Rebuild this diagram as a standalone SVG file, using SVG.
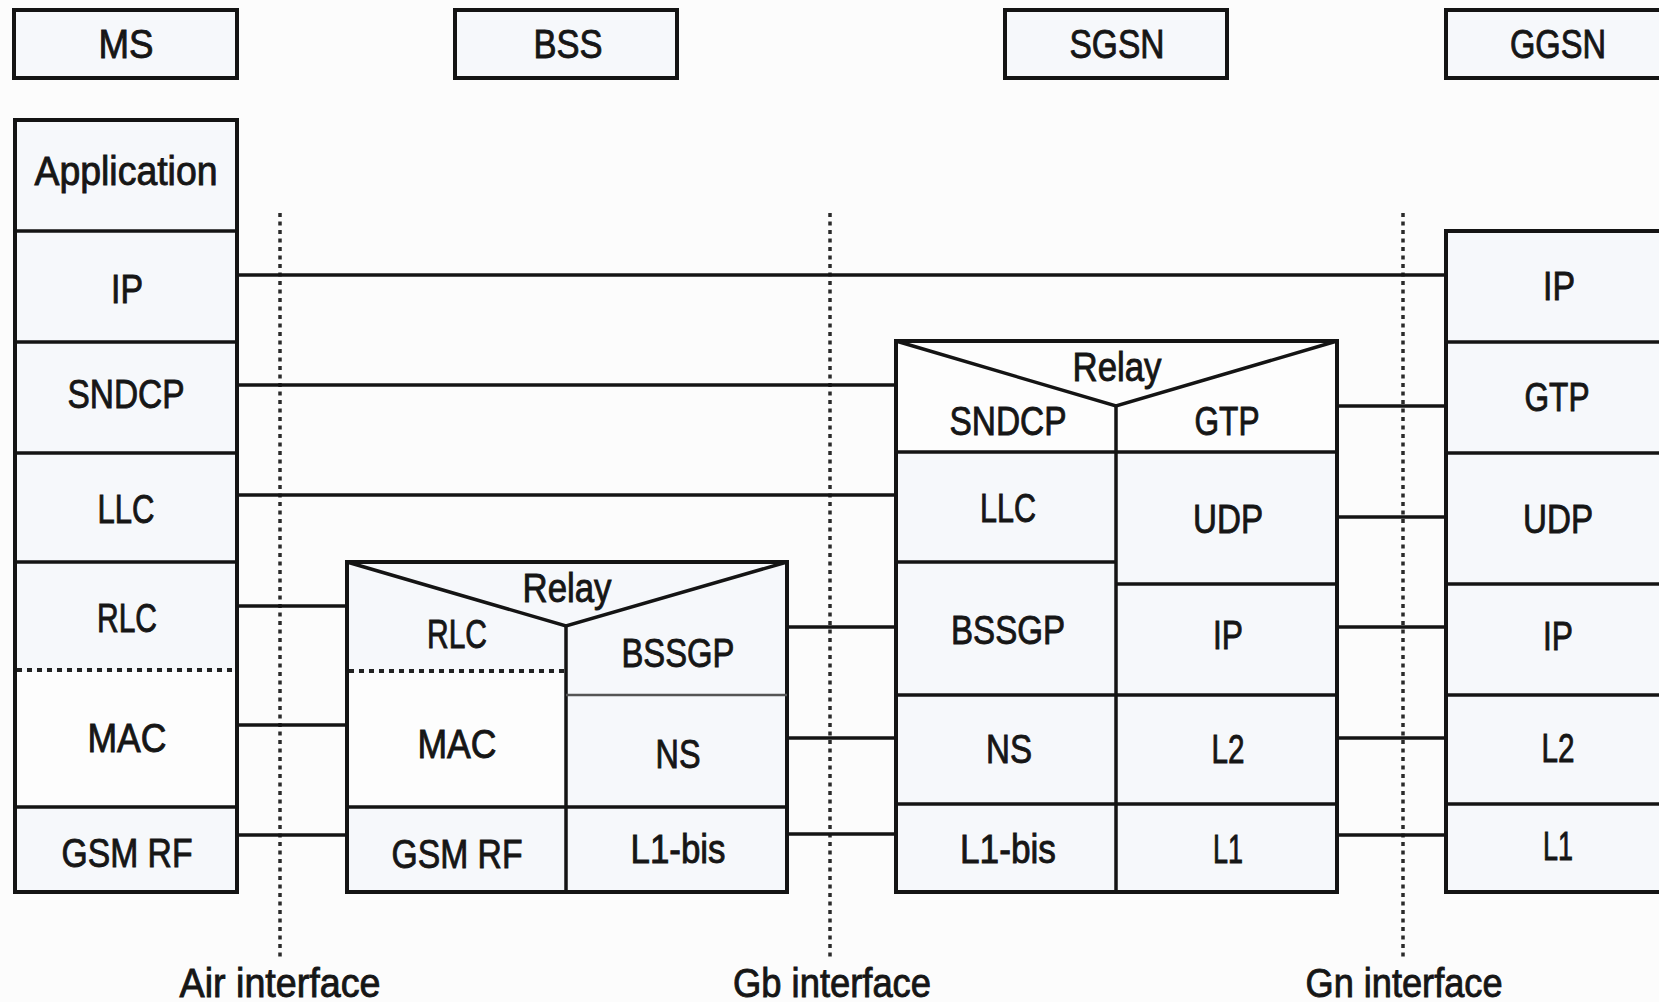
<svg xmlns="http://www.w3.org/2000/svg" width="1659" height="1002" viewBox="0 0 1659 1002">
<style>
text{font-family:"Liberation Sans",Arial,sans-serif;font-size:40px;fill:#161616;stroke:#161616;stroke-width:0.9;text-anchor:middle}
.box{fill:#f6f8fb;stroke:#141414;stroke-width:4}
.div{fill:none;stroke:#141414;stroke-width:3.5}
.thin{fill:none;stroke:#555;stroke-width:2.5}
.dash{fill:none;stroke:#222;stroke-width:4;stroke-dasharray:5 5}
.conn{fill:none;stroke:#141414;stroke-width:3.5}
.dot{fill:none;stroke:#2a2a2a;stroke-width:3.5;stroke-dasharray:4 4.5}
</style>
<rect x="0" y="0" width="1659" height="1002" fill="#fcfcfc"/>

<g id="interfaces">
<line class="dot" x1="280" y1="213" x2="280" y2="960"/>
<line class="dot" x1="830" y1="213" x2="830" y2="960"/>
<line class="dot" x1="1403" y1="213" x2="1403" y2="960"/>
<text x="280" y="997" textLength="201" lengthAdjust="spacingAndGlyphs">Air interface</text>
<text x="832" y="997" textLength="198" lengthAdjust="spacingAndGlyphs">Gb interface</text>
<text x="1404" y="997" textLength="197" lengthAdjust="spacingAndGlyphs">Gn interface</text>
</g>

<g id="connectors">
<line class="conn" x1="237" y1="275" x2="1446" y2="275"/>
<line class="conn" x1="237" y1="385" x2="896" y2="385"/>
<line class="conn" x1="237" y1="495" x2="896" y2="495"/>
<line class="conn" x1="237" y1="606" x2="347" y2="606"/>
<line class="conn" x1="237" y1="725" x2="347" y2="725"/>
<line class="conn" x1="237" y1="835" x2="347" y2="835"/>
<line class="conn" x1="787" y1="627" x2="896" y2="627"/>
<line class="conn" x1="787" y1="738" x2="896" y2="738"/>
<line class="conn" x1="787" y1="834" x2="896" y2="834"/>
<line class="conn" x1="1337" y1="406" x2="1446" y2="406"/>
<line class="conn" x1="1337" y1="517" x2="1446" y2="517"/>
<line class="conn" x1="1337" y1="627" x2="1446" y2="627"/>
<line class="conn" x1="1337" y1="738" x2="1446" y2="738"/>
<line class="conn" x1="1337" y1="835" x2="1446" y2="835"/>
</g>

<g id="hdr-ms">
<rect class="box" x="14" y="10" width="223" height="68"/>
<text x="126" y="58" textLength="55" lengthAdjust="spacingAndGlyphs">MS</text>
</g>
<g id="hdr-bss">
<rect class="box" x="455" y="10" width="222" height="68"/>
<text x="568" y="58" textLength="69" lengthAdjust="spacingAndGlyphs">BSS</text>
</g>
<g id="hdr-sgsn">
<rect class="box" x="1005" y="10" width="222" height="68"/>
<text x="1117" y="58" textLength="95" lengthAdjust="spacingAndGlyphs">SGSN</text>
</g>
<g id="hdr-ggsn">
<rect class="box" x="1446" y="10" width="230" height="68"/>
<text x="1558" y="58" textLength="96" lengthAdjust="spacingAndGlyphs">GGSN</text>
</g>

<g id="ms-stack">
<rect class="box" x="15" y="120" width="222" height="772"/>
<rect x="17" y="672" width="218" height="133" fill="#fdfdfd"/>
<line class="div" x1="15" y1="231" x2="237" y2="231"/>
<line class="div" x1="15" y1="342" x2="237" y2="342"/>
<line class="div" x1="15" y1="453" x2="237" y2="453"/>
<line class="div" x1="15" y1="562" x2="237" y2="562"/>
<line class="dash" x1="17" y1="670" x2="235" y2="670"/>
<line class="div" x1="15" y1="807" x2="237" y2="807"/>
<text x="126" y="185" textLength="183" lengthAdjust="spacingAndGlyphs">Application</text>
<text x="127" y="303" textLength="32" lengthAdjust="spacingAndGlyphs">IP</text>
<text x="126" y="408" textLength="117" lengthAdjust="spacingAndGlyphs">SNDCP</text>
<text x="126" y="523" textLength="57" lengthAdjust="spacingAndGlyphs">LLC</text>
<text x="127" y="632" textLength="60" lengthAdjust="spacingAndGlyphs">RLC</text>
<text x="127" y="752" textLength="79" lengthAdjust="spacingAndGlyphs">MAC</text>
<text x="127" y="867" textLength="131" lengthAdjust="spacingAndGlyphs">GSM RF</text>
</g>

<g id="bss-stack">
<rect class="box" x="347" y="562" width="440" height="330"/>
<rect x="349" y="673" width="216" height="132" fill="#fdfdfd"/>
<polyline class="div" points="347,562 566,626 787,562"/>
<line class="div" x1="566" y1="626" x2="566" y2="892"/>
<line class="dash" x1="349" y1="671" x2="564" y2="671"/>
<line class="thin" x1="566" y1="695" x2="787" y2="695"/>
<line class="div" x1="347" y1="807" x2="787" y2="807"/>
<text x="567" y="602" textLength="89" lengthAdjust="spacingAndGlyphs">Relay</text>
<text x="457" y="648" textLength="60" lengthAdjust="spacingAndGlyphs">RLC</text>
<text x="678" y="667" textLength="113" lengthAdjust="spacingAndGlyphs">BSSGP</text>
<text x="457" y="758" textLength="79" lengthAdjust="spacingAndGlyphs">MAC</text>
<text x="678" y="768" textLength="45" lengthAdjust="spacingAndGlyphs">NS</text>
<text x="457" y="868" textLength="131" lengthAdjust="spacingAndGlyphs">GSM RF</text>
<text x="678" y="863" textLength="95" lengthAdjust="spacingAndGlyphs">L1-bis</text>
</g>

<g id="sgsn-stack">
<rect class="box" x="896" y="341" width="441" height="551"/>
<polygon points="898,343 1335,343 1335,451 898,451" fill="#fdfdfd"/>
<polyline class="div" points="896,341 1116,406 1337,341"/>
<line class="div" x1="1116" y1="406" x2="1116" y2="892"/>
<line class="div" x1="896" y1="452" x2="1337" y2="452"/>
<line class="div" x1="896" y1="562" x2="1116" y2="562"/>
<line class="div" x1="1116" y1="584" x2="1337" y2="584"/>
<line class="div" x1="896" y1="695" x2="1337" y2="695"/>
<line class="div" x1="896" y1="804" x2="1337" y2="804"/>
<text x="1117" y="381" textLength="89" lengthAdjust="spacingAndGlyphs">Relay</text>
<text x="1008" y="435" textLength="117" lengthAdjust="spacingAndGlyphs">SNDCP</text>
<text x="1227" y="435" textLength="65" lengthAdjust="spacingAndGlyphs">GTP</text>
<text x="1008" y="522" textLength="56" lengthAdjust="spacingAndGlyphs">LLC</text>
<text x="1228" y="533" textLength="70" lengthAdjust="spacingAndGlyphs">UDP</text>
<text x="1008" y="644" textLength="114" lengthAdjust="spacingAndGlyphs">BSSGP</text>
<text x="1228" y="649" textLength="30" lengthAdjust="spacingAndGlyphs">IP</text>
<text x="1009" y="763" textLength="46" lengthAdjust="spacingAndGlyphs">NS</text>
<text x="1228" y="763" textLength="33" lengthAdjust="spacingAndGlyphs">L2</text>
<text x="1008" y="863" textLength="96" lengthAdjust="spacingAndGlyphs">L1-bis</text>
<text x="1228" y="863" textLength="30" lengthAdjust="spacingAndGlyphs">L1</text>
</g>

<g id="ggsn-stack">
<rect class="box" x="1446" y="231" width="230" height="661"/>
<line class="div" x1="1446" y1="342" x2="1659" y2="342"/>
<line class="div" x1="1446" y1="453" x2="1659" y2="453"/>
<line class="div" x1="1446" y1="584" x2="1659" y2="584"/>
<line class="div" x1="1446" y1="695" x2="1659" y2="695"/>
<line class="div" x1="1446" y1="804" x2="1659" y2="804"/>
<text x="1559" y="300" textLength="32" lengthAdjust="spacingAndGlyphs">IP</text>
<text x="1557" y="411" textLength="65" lengthAdjust="spacingAndGlyphs">GTP</text>
<text x="1558" y="533" textLength="70" lengthAdjust="spacingAndGlyphs">UDP</text>
<text x="1558" y="650" textLength="30" lengthAdjust="spacingAndGlyphs">IP</text>
<text x="1558" y="762" textLength="33" lengthAdjust="spacingAndGlyphs">L2</text>
<text x="1558" y="860" textLength="30" lengthAdjust="spacingAndGlyphs">L1</text>
</g>
</svg>
